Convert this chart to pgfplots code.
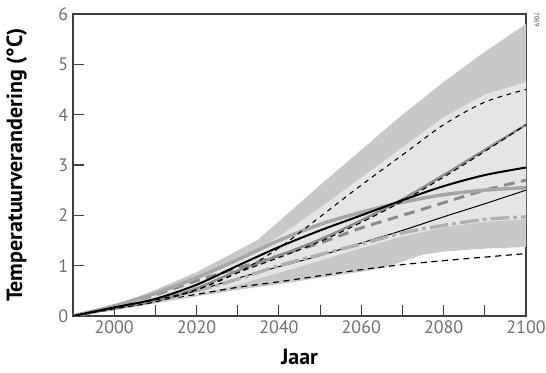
\documentclass[border=0pt]{standalone}
\usepackage{pgfplots}
\pgfplotsset{compat=1.18}
\usepackage{fontspec}
\setmainfont{PT Sans}
\definecolor{outerband}{HTML}{C8C8C8}
\definecolor{innerband}{HTML}{E5E5E5}
\definecolor{gsolid}{HTML}{A6A6A6}
\definecolor{gdash}{HTML}{8A8A8A}
\definecolor{gdot}{HTML}{B0B0B0}
\definecolor{gsteep}{HTML}{8C8C8C}
\definecolor{axisgray}{HTML}{404040}
\begin{document}
\begin{tikzpicture}
\useasboundingbox (-54.75pt,-42.75pt) rectangle (354.75pt,237pt);
\begin{axis}[
  at={(0,0)}, anchor=south west,
  scale only axis, width=339.75pt, height=226.5pt,
  xmin=1990, xmax=2100, ymin=0, ymax=6,
  axis line style={draw=axisgray, line width=1pt},
  tick pos=left,
  tick align=inside,
  xtick={2000,2020,2040,2060,2080,2100},
  minor xtick={2010,2030,2050,2070,2090},
  ytick={0,1,2,3,4,5,6},
  major tick length=8.25pt, minor tick length=8.25pt,
  every tick/.style={draw=axisgray, line width=0.8pt},
  xticklabel style={font=\fontsize{13.5}{15}\selectfont, text=axisgray!75, /pgf/number format/1000 sep={}},
  yticklabel style={font=\fontsize{13.5}{15}\selectfont, text=axisgray!75},
  /pgf/number format/assume math mode=true,
  scaled x ticks=false,
  xlabel={\bfseries Jaar}, ylabel={\bfseries Temperatuurverandering (°C)},
  label style={font=\fontsize{16.5}{18}\selectfont\bfseries},
  xlabel style={at={(axis description cs:0.5,0)}, anchor=north, yshift=-21pt},
  ylabel style={at={(axis description cs:0,0.5)}, anchor=south, yshift=31pt},
  clip=true,
]
% outer band (upper forward, lower backward)
\addplot[fill=outerband, draw=none] coordinates {(1990,0) (2000,0.2) (2010,0.52) (2020,0.87) (2030,1.3) (2035,1.52) (2040,1.88) (2050,2.6) (2060,3.3) (2070,4.0) (2080,4.65) (2090,5.25) (2100,5.8)
 (2100,1.37) (2090,1.34) (2080,1.28) (2075,1.22) (2070,1.08) (2065,0.95) (2060,0.88) (2050,0.76) (2040,0.63) (2030,0.52) (2020,0.39) (2010,0.25) (2000,0.12) (1990,0)} -- cycle;
% inner band
\addplot[fill=innerband, draw=none] coordinates {(1990,0) (2000,0.18) (2010,0.42) (2020,0.72) (2030,1.08) (2040,1.58) (2050,2.15) (2060,2.75) (2070,3.35) (2080,3.95) (2090,4.4) (2100,4.65)
 (2100,1.92) (2090,1.87) (2080,1.76) (2070,1.58) (2060,1.35) (2050,1.1) (2040,0.86) (2030,0.62) (2020,0.42) (2010,0.27) (2000,0.14) (1990,0)} -- cycle;
% lower black dashed
\addplot[black, line width=0.9pt, dash pattern=on 4.5pt off 3.5pt, smooth] coordinates {(1990,0) (2000,0.15) (2010,0.3) (2020,0.43) (2030,0.57) (2040,0.68) (2050,0.8) (2060,0.92) (2070,1.02) (2080,1.1) (2090,1.17) (2100,1.24)};
% thin black solid
\addplot[black, line width=0.75pt, smooth] coordinates {(1990,0) (2000,0.15) (2010,0.3) (2020,0.5) (2030,0.75) (2040,0.98) (2050,1.2) (2060,1.45) (2070,1.7) (2080,1.97) (2090,2.23) (2100,2.5)};
% dash-dot gray
\addplot[gdot, line width=2.5pt, dash pattern=on 14pt off 3pt on 3pt off 3pt, smooth] coordinates {(1990,0) (2000,0.15) (2010,0.3) (2020,0.5) (2030,0.73) (2040,1.0) (2050,1.22) (2060,1.43) (2070,1.65) (2080,1.8) (2090,1.92) (2100,1.97)};
% gray thick dashed
\addplot[gdash, line width=2.2pt, dash pattern=on 8pt off 5pt, smooth] coordinates {(1990,0) (2000,0.2) (2010,0.42) (2020,0.7) (2030,0.95) (2040,1.2) (2050,1.45) (2060,1.75) (2070,2.0) (2080,2.25) (2090,2.5) (2100,2.7)};
% gray thick solid
\addplot[gsolid, line width=2.6pt, smooth] coordinates {(1990,0) (2000,0.2) (2010,0.45) (2020,0.76) (2030,1.12) (2040,1.5) (2050,1.82) (2060,2.06) (2070,2.26) (2080,2.41) (2090,2.5) (2100,2.55)};
% steep gray solid + black dashed
\addplot[gsteep, line width=1.8pt, smooth] coordinates {(1990,0) (2000,0.15) (2010,0.3) (2020,0.55) (2030,0.9) (2040,1.2) (2050,1.52) (2060,1.9) (2070,2.32) (2080,2.8) (2090,3.3) (2100,3.8)};
\addplot[black, line width=0.8pt, dash pattern=on 4pt off 3pt, smooth] coordinates {(1990,0) (2000,0.14) (2010,0.28) (2020,0.52) (2030,0.86) (2040,1.16) (2050,1.48) (2060,1.86) (2070,2.28) (2080,2.76) (2090,3.27) (2100,3.8)};
% thick black solid
\addplot[black, line width=1.5pt, smooth] coordinates {(1990,0) (2000,0.17) (2010,0.34) (2020,0.62) (2030,1.0) (2040,1.37) (2050,1.7) (2060,2.0) (2070,2.3) (2080,2.58) (2090,2.8) (2100,2.95)};
% upper black dashed
\addplot[black, line width=0.8pt, dash pattern=on 3.5pt off 3.5pt, smooth] coordinates {(1990,0) (2000,0.17) (2010,0.32) (2020,0.52) (2030,0.86) (2040,1.35) (2050,1.97) (2060,2.6) (2070,3.2) (2080,3.8) (2090,4.25) (2100,4.5)};
\end{axis}
\node[rotate=-90, font=\fontsize{5}{6}\selectfont, text=axisgray, anchor=center] at (348pt,222pt) {7069};
\end{tikzpicture}
\end{document}
